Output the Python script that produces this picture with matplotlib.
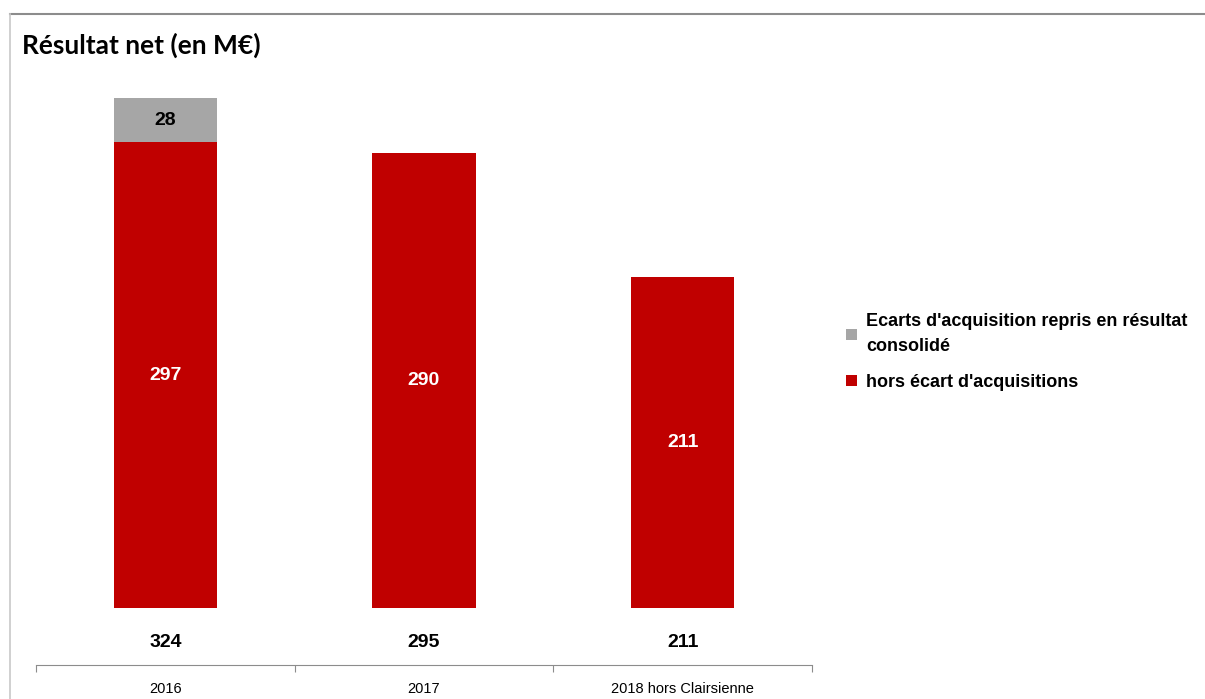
import matplotlib
matplotlib.use("Agg")
import matplotlib.pyplot as plt
from matplotlib.lines import Line2D
import numpy as np

# Résultat net (en M€)
categories = ['2016', '2017', '2018 hors Clairsienne']
hors_ecart = [297, 290, 211]
ecarts = [28, 0, 0]
totaux = ['324', '295', '211']

labels = ["Ecarts d'acquisition repris en résultat\nconsolidé", "hors écart d'acquisitions"]
rouge = '#C00000'
gris = '#A6A6A6'

W, H = 1205, 699
fig = plt.figure(figsize=(W / 100, H / 100), dpi=100)

# cadre gris en haut et à gauche
fig.add_artist(Line2D([10 / W, 1 - 1 / W], [1 - 14 / H, 1 - 14 / H], color='#8c8c8c', lw=1.5))
fig.add_artist(Line2D([10 / W, 10 / W], [0, 1 - 14 / H], color='#c8c8c8', lw=1.2))

ax = fig.add_axes([36 / W, 34 / H, (812 - 36) / W, (665 - 77) / H])

x = np.arange(len(categories))
b1 = ax.bar(x, hors_ecart, width=0.40, color=rouge)
b2 = ax.bar(x, ecarts, width=0.40, bottom=hors_ecart, color=gris)

for i, v in enumerate(hors_ecart):
    ax.text(x[i], v / 2, str(v), ha='center', va='center', color='white',
            fontsize=14, fontweight='bold', family='Liberation Sans')
for i, v in enumerate(ecarts):
    if v:
        ax.text(x[i], hors_ecart[i] + v / 2, str(v), ha='center', va='center', color='black',
                fontsize=14, fontweight='bold', family='Liberation Sans')
for i, t in enumerate(totaux):
    ax.text(x[i], -22, t, ha='center', va='center', color='black',
            fontsize=14, fontweight='bold', family='Liberation Sans')

ax.set_xlim(-0.5, len(categories) - 0.5)
ax.set_ylim(-36.35, 338.65)
ax.set_yticks([])
for s in ['top', 'right', 'left']:
    ax.spines[s].set_visible(False)
ax.spines['bottom'].set_color('#8c8c8c')

ax.set_xticks(np.arange(len(categories) + 1) - 0.5)
ax.set_xticklabels([])
ax.tick_params(axis='x', direction='out', length=5, color='#8c8c8c')
ax.set_xticks(x, minor=True)
ax.set_xticklabels(categories, minor=True, fontsize=10.5, family='Liberation Sans')
ax.tick_params(axis='x', which='minor', length=0, pad=12)

fig.text(22 / W, 1 - 45 / H, 'Résultat net (en M€)', fontsize=19, fontweight='bold',
         family='Lato', va='center', ha='left')

leg = fig.legend([b2, b1], labels, loc='upper left', bbox_to_anchor=(830 / W, 1 - 297 / H),
                 frameon=False, prop={'family': 'Liberation Sans', 'weight': 'bold', 'size': 13},
                 handlelength=0.6, handleheight=0.6, handletextpad=0.5, labelspacing=1.05)
for t in leg.get_texts():
    t.set_linespacing(1.6)

fig.savefig('out.png', dpi=100)
